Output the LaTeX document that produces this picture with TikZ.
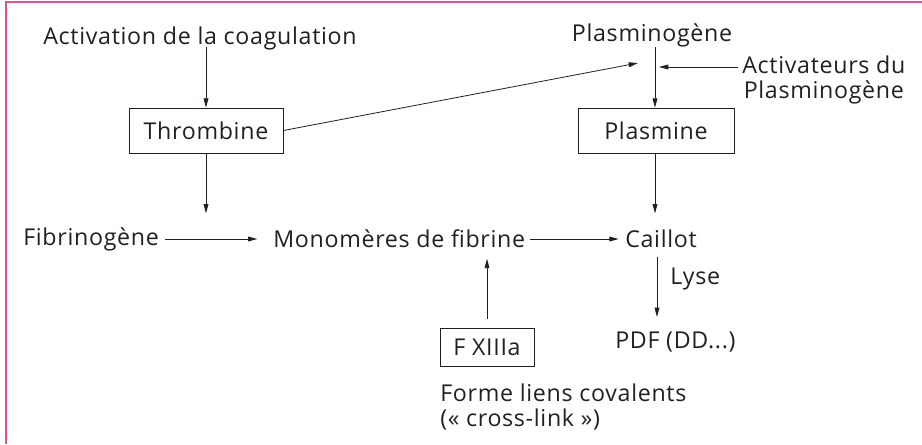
\documentclass[tikz,border=0pt]{standalone}
\usepackage{fontspec}
\setmainfont[LetterSpace=3]{Open Sans}
\usetikzlibrary{arrows.meta}

\definecolor{cadre}{RGB}{224,80,150}
\definecolor{encre}{RGB}{35,31,32}

\tikzset{
  txt/.style={inner sep=0.75pt,text=encre,font=\fontsize{17.4}{18.75}\selectfont},
  boite/.style={txt,draw=encre,line width=0.6pt,minimum height=33.75pt,inner xsep=6pt},
  fl/.style={draw=encre,line width=0.6pt,-{Triangle[length=7pt,width=3.6pt]}}
}

\begin{document}
\begin{tikzpicture}[x=0.75pt,y=0.75pt,yscale=-1,xscale=1]
\useasboundingbox (0,0) rectangle (922,444);

%Frame
\draw [cadre, line width=1.2pt]  (6,444) -- (6,2) -- (922,2) ;

% Text Nodes
\node [txt, anchor=west] (activ) at (42,38) {Activation de la coagulation};
\node [boite, minimum width=115.5pt] (thromb) at (206,130.5) {Thrombine};
\node [txt] (plgn) at (652,35) {Plasminogène};
\node [txt, align=center, anchor=west] (activp) at (741,79.5) {Activateurs du\\Plasminogène};
\node [boite, minimum width=117pt] (plasm) at (656,130.5) {Plasmine};
\node [txt, anchor=west] (fibg) at (22,239) {Fibrinogène};
\node [txt, anchor=west] (mono) at (272,239) {Monomères de fibrine};
\node [txt, anchor=west] (caill) at (624,239) {Caillot};
\node [txt, anchor=west] (lyse) at (669,279) {Lyse};
\node [txt, anchor=west] (pdf) at (614,342) {PDF (DD...)};
\node [boite, minimum width=70.5pt, minimum height=29pt] (f13) at (487,347.5) {F XIIIa};
\node [txt, align=left, anchor=north west] (forme) at (439,383) {Forme liens covalents\\(« cross-link »)};

%Points
\coordinate (ptA) at (638,63) ;
\coordinate (ptB) at (659,67) ;

%Arrows
\draw [fl]  (thromb.north) ++(0,-61) -- (thromb.north) ;
\draw [fl]  (thromb.south) -- ++(0,60) ;
\draw [fl]  (thromb.east) -- (ptA) ;
\draw [fl]  (plasm.north) ++(-1,-61) -- ++(0,61) ;
\draw [fl, shorten <=2pt]  (activp.west |- ptB) -- (ptB) ;
\draw [fl]  (plasm.south) ++(-1,0) -- ++(0,60) ;
\draw [fl]  (fibg.east) ++(5,0) -- ([xshift=-11pt]mono.west) ;
\draw [fl]  (mono.east) ++(4,0) -- ([xshift=-4pt]caill.west) ;
\draw [fl]  (f13.north) ++(0,-9) -- ++(0,-60) ;
\draw [fl]  (caill.west) ++(33,18) -- ++(0,60) ;
\end{tikzpicture}
\end{document}
